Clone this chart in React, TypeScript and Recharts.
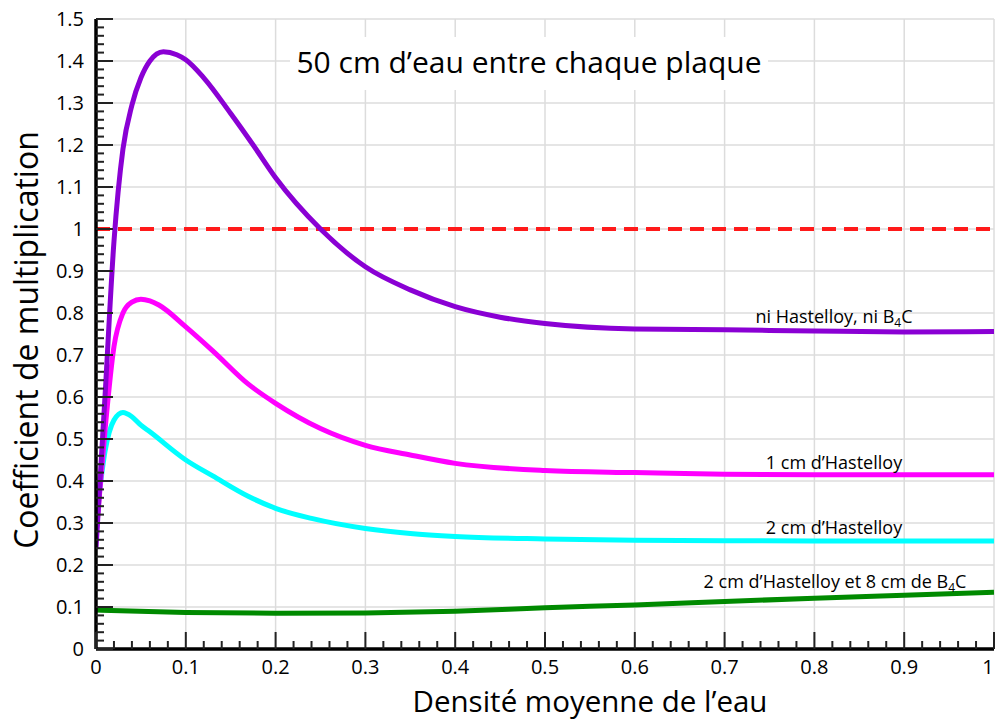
import React from "react";
import { LineChart, Line, XAxis, YAxis, CartesianGrid, ReferenceLine } from "recharts";

// ---- data ----
const purpleX = [0, 0.01, 0.02, 0.03, 0.04, 0.05, 0.06, 0.075, 0.09, 0.1, 0.12, 0.15, 0.175, 0.2, 0.25, 0.3, 0.35, 0.4, 0.45, 0.5, 0.6, 0.7, 0.8, 0.9, 1];
const purpleY = [0.24, 0.6, 0.97, 1.19, 1.295, 1.36, 1.4, 1.422, 1.415, 1.403, 1.36, 1.275, 1.2, 1.122, 1.0, 0.91, 0.855, 0.815, 0.79, 0.775, 0.762, 0.76, 0.757, 0.755, 0.756];

const magentaX = [0, 0.01, 0.02, 0.03, 0.04, 0.05, 0.06, 0.07, 0.1, 0.13, 0.17, 0.2, 0.25, 0.3, 0.35, 0.4, 0.5, 0.6, 0.7, 0.8, 0.9, 1];
const magentaY = [0.27, 0.52, 0.72, 0.8, 0.826, 0.833, 0.829, 0.819, 0.767, 0.71, 0.63, 0.585, 0.525, 0.485, 0.462, 0.442, 0.425, 0.42, 0.416, 0.415, 0.415, 0.415];

const cyanX = [0, 0.01, 0.02, 0.03, 0.04, 0.05, 0.06, 0.1, 0.13, 0.17, 0.2, 0.24, 0.3, 0.35, 0.4, 0.5, 0.6, 0.7, 0.8, 0.9, 1];
const cyanY = [0.3, 0.47, 0.545, 0.563, 0.553, 0.533, 0.517, 0.45, 0.412, 0.363, 0.335, 0.311, 0.287, 0.275, 0.268, 0.262, 0.259, 0.258, 0.257, 0.257, 0.257];

const greenX = [0, 0.1, 0.2, 0.3, 0.4, 0.5, 0.6, 0.7, 0.8, 0.9, 1];
const greenY = [0.093, 0.087, 0.085, 0.086, 0.09, 0.098, 0.105, 0.113, 0.121, 0.128, 0.135];

const xMajorTicks = [0, 0.1, 0.2, 0.3, 0.4, 0.5, 0.6, 0.7, 0.8, 0.9, 1];
const yMajorTicks = [0, 0.1, 0.2, 0.3, 0.4, 0.5, 0.6, 0.7, 0.8, 0.9, 1, 1.1, 1.2, 1.3, 1.4, 1.5];
const xAllTicks = Array.from({ length: 51 }, (_, i) => Math.round(i * 2) / 100);
const yAllTicks = Array.from({ length: 76 }, (_, i) => Math.round(i * 2) / 100);

const title = "50 cm d\u2019eau entre chaque plaque";
const xTitle = "Densit\u00e9 moyenne de l\u2019eau";
const yTitle = "Coefficient de multiplication";

const toData = (xs: number[], ys: number[]) => xs.map((x, i) => ({ x, y: ys[i] }));
const purpleData = toData(purpleX, purpleY);
const magentaData = toData(magentaX, magentaY);
const cyanData = toData(cyanX, cyanY);
const greenData = toData(greenX, greenY);

// ---- layout ----
const W = 996;
const H = 722;
const LEFT = 96;
const TOP = 19;
const RIGHT = 994;
const BOTTOM = 649;
const MAJOR = 17;
const MINOR = 8;
const FONT = "'Open Sans', sans-serif";
const TICK_COLOR = "#222";

const isMajor = (v: number) => Math.abs(v * 10 - Math.round(v * 10)) < 1e-6;
const fmt = (v: number) => String(Math.round(v * 10) / 10);

const BottomTick = (props: any) => {
  const { x, payload } = props;
  const v = payload.value;
  const maj = isMajor(v);
  return (
    <g>
      <line x1={x} x2={x} y1={BOTTOM} y2={BOTTOM - (maj ? MAJOR : MINOR)} stroke={TICK_COLOR} strokeWidth={2} />
      {maj && (
        <text x={Math.min(x, W - 8)} y={BOTTOM + 25} textAnchor="middle" fontSize={20} fontFamily={FONT} fill="#000">
          {fmt(v)}
        </text>
      )}
    </g>
  );
};

const TopTick = (props: any) => {
  const { x, payload } = props;
  const maj = isMajor(payload.value);
  return <line x1={x} x2={x} y1={TOP} y2={TOP + (maj ? MAJOR : MINOR)} stroke={TICK_COLOR} strokeWidth={2} />;
};

const LeftTick = (props: any) => {
  const { y, payload } = props;
  const v = payload.value;
  const maj = isMajor(v);
  return (
    <g>
      <line x1={LEFT} x2={LEFT + (maj ? MAJOR : MINOR)} y1={y} y2={y} stroke={TICK_COLOR} strokeWidth={2} />
      {maj && (
        <text x={LEFT - 12} y={y + 7} textAnchor="end" fontSize={20} fontFamily={FONT} fill="#000">
          {fmt(v)}
        </text>
      )}
    </g>
  );
};

const RightTick = (props: any) => {
  const { y, payload } = props;
  const maj = isMajor(payload.value);
  return <line x1={RIGHT} x2={RIGHT - (maj ? MAJOR : MINOR)} y1={y} y2={y} stroke={TICK_COLOR} strokeWidth={2} />;
};

const CurveLabel = ({ cx, cy, children }: { cx: number; cy: number; children: React.ReactNode }) => (
  <div
    style={{
      position: "absolute",
      left: cx - 160,
      width: 320,
      top: cy - 12,
      height: 24,
      lineHeight: "24px",
      textAlign: "center",
      fontFamily: FONT,
      fontSize: 18,
      color: "#000",
      whiteSpace: "nowrap",
    }}
  >
    {children}
  </div>
);

const Sub = ({ children }: { children: React.ReactNode }) => (
  <span style={{ fontSize: 12, verticalAlign: "-4px", lineHeight: 0 }}>{children}</span>
);

export default function App() {
  return (
    <div style={{ position: "absolute", left: 0, top: 0, width: W, height: H, background: "#fff", overflow: "hidden" }}>
      <LineChart width={W} height={H} margin={{ top: TOP, right: W - RIGHT, bottom: 0, left: 0 }}>
        <CartesianGrid
          stroke="#dcdcdc"
          strokeWidth={1.5}
          horizontalValues={yMajorTicks}
          verticalValues={xMajorTicks}
        />
        <XAxis
          dataKey="x"
          type="number"
          domain={[0, 1]}
          ticks={xAllTicks}
          interval={0}
          height={H - BOTTOM}
          tickLine={false}
          tick={BottomTick}
          axisLine={{ stroke: "#000", strokeWidth: 3.5 }}
          allowDataOverflow
        />
        <XAxis
          xAxisId="top"
          orientation="top"
          dataKey="x"
          type="number"
          domain={[0, 1]}
          ticks={xAllTicks}
          interval={0}
          height={0}
          tickLine={false}
          tick={TopTick}
          axisLine={{ stroke: "#000", strokeWidth: 3.5 }}
          allowDataOverflow
        />
        <YAxis
          type="number"
          domain={[0, 1.5]}
          ticks={yAllTicks}
          interval={0}
          width={LEFT}
          tickLine={false}
          tick={LeftTick}
          axisLine={{ stroke: "#000", strokeWidth: 3.5 }}
          allowDataOverflow
        />
        <YAxis
          yAxisId="right"
          orientation="right"
          type="number"
          domain={[0, 1.5]}
          ticks={yAllTicks}
          interval={0}
          width={0}
          tickLine={false}
          tick={RightTick}
          axisLine={{ stroke: "#000", strokeWidth: 3.5 }}
          allowDataOverflow
        />
        <ReferenceLine y={1} stroke="#ff1a1a" strokeWidth={4} strokeDasharray="14 8" />
        <Line data={greenData} dataKey="y" type="monotone" stroke="#008a00" strokeWidth={5} dot={false} isAnimationActive={false} />
        <Line data={cyanData} dataKey="y" type="monotone" stroke="#00ffff" strokeWidth={5} dot={false} isAnimationActive={false} />
        <Line data={magentaData} dataKey="y" type="monotone" stroke="#ff00ff" strokeWidth={5} dot={false} isAnimationActive={false} />
        <Line data={purpleData} dataKey="y" type="monotone" stroke="#8a00d4" strokeWidth={5} dot={false} isAnimationActive={false} />
      </LineChart>

      <div
        style={{
          position: "absolute",
          left: 290,
          top: 37,
          width: 478,
          height: 53,
          background: "#fff",
          lineHeight: "50px",
          textAlign: "center",
          fontFamily: FONT,
          fontSize: 30,
          color: "#000",
          whiteSpace: "nowrap",
        }}
      >
        {title}
      </div>

      <div
        style={{
          position: "absolute",
          left: 590 - 250,
          width: 500,
          top: 684,
          height: 34,
          lineHeight: "34px",
          textAlign: "center",
          fontFamily: FONT,
          fontSize: 29.5,
          color: "#000",
          whiteSpace: "nowrap",
        }}
      >
        {xTitle}
      </div>

      <div
        style={{
          position: "absolute",
          left: 26 - 250,
          width: 500,
          top: 340 - 20,
          height: 40,
          lineHeight: "40px",
          textAlign: "center",
          fontFamily: FONT,
          fontSize: 32,
          color: "#000",
          whiteSpace: "nowrap",
          transform: "rotate(-90deg)",
        }}
      >
        {yTitle}
      </div>

      <CurveLabel cx={834} cy={316}>
        ni Hastelloy, ni B<Sub>4</Sub>C
      </CurveLabel>
      <CurveLabel cx={834} cy={462}>
        1 cm d{"\u2019"}Hastelloy
      </CurveLabel>
      <CurveLabel cx={834} cy={527}>
        2 cm d{"\u2019"}Hastelloy
      </CurveLabel>
      <CurveLabel cx={835} cy={581}>
        2 cm d{"\u2019"}Hastelloy et 8 cm de B<Sub>4</Sub>C
      </CurveLabel>
    </div>
  );
}
